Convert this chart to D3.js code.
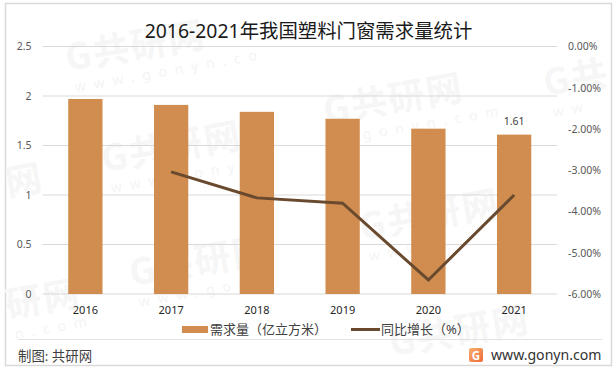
<!DOCTYPE html>
<html>
<head>
<meta charset="utf-8">
<script src="https://cdn.jsdelivr.net/npm/d3@7"></script>
<style>
    html, body {margin: 0; padding: 0; background: #fff;}
    text {font-family: "Noto Sans", "Noto Sans CJK SC", sans-serif;}
</style>
</head>
<body>
<div id="chart"></div>
<script>
const years = ["2016", "2017", "2018", "2019", "2020", "2021"];
const demand = [1.97, 1.91, 1.84, 1.77, 1.67, 1.61];
const growth = [null, -3.04, -3.67, -3.8, -5.66, -3.6];
const leftTicks = [0, 0.5, 1, 1.5, 2, 2.5];
const rightTicks = [0, -1, -2, -3, -4, -5, -6];
const barLabels = [null, null, null, null, null, "1.61"];

const W = 616, H = 370;
const margin = {top: 46.5, right: 59, bottom: 76, left: 42.5};
const width = W - margin.left - margin.right;
const height = H - margin.top - margin.bottom;

const svg = d3.select("#chart").append("svg")
    .attr("width", W)
    .attr("height", H)
    .style("display", "block");

//outer border
svg.append("rect")
    .attr("x", 5.5).attr("y", 3.5)
    .attr("width", 606).attr("height", 362)
    .attr("fill", "#fff")
    .attr("stroke", "#d9d9d9")
    .attr("stroke-width", 1.5);

//watermarks behind the chart, the ones at the edges only show what is visible
const marks = [
    {x: 68, y: 71, big: "G共研网", small: "www.gonyn.co"},
    {x: 104, y: 172, big: "G共研网", small: "www.gony"},
    {x: 326, y: 124, big: "G共研网", small: "w.gonyn.com"},
    {x: 546, y: 96, big: "G共", small: "ww"},
    {x: 132, y: 286, big: "G共研网", small: "www.gony"},
    {x: 362, y: 240, big: "G共研网", small: "www.c"},
    {x: 8, y: 318, big: "研网", small: "n.com"},
    {x: 8, y: 196, big: "网", small: ""},
    {x: 392, y: 356, big: "G共研网", small: ""}
];
const mark = svg.append("g").selectAll("g")
    .data(marks)
    .join("g")
    .attr("transform", d => `translate(${d.x},${d.y}) rotate(-10)`);
mark.append("text")
    .attr("font-size", 36)
    .attr("font-weight", "bold")
    .attr("fill", "#f6f6f6")
    .attr("letter-spacing", 2)
    .style("font-family", "'Noto Sans CJK SC'")
    .text(d => d.big);
mark.append("text")
    .attr("x", 4).attr("y", 22)
    .attr("font-size", 14)
    .attr("fill", "#f4f4f4")
    .attr("letter-spacing", 8)
    .text(d => d.small);

const g = svg.append("g")
    .attr("transform", `translate(${margin.left},${margin.top})`);

const x = d3.scaleBand().domain(years).range([0, width]).paddingInner(0.6).paddingOuter(0.3);
const y = d3.scaleLinear().domain([0, 2.5]).range([height, 0]);
const yRight = d3.scaleLinear().domain([-6, 0]).range([height, 0]);

//gridlines
g.append("g").selectAll("line")
    .data(leftTicks)
    .join("line")
    .attr("x1", 0).attr("x2", width)
    .attr("y1", d => y(d)).attr("y2", d => y(d))
    .attr("stroke", "#d9d9d9")
    .attr("stroke-width", 1);

//bars
g.append("g").selectAll("rect")
    .data(demand)
    .join("rect")
    .attr("x", (d, i) => x(years[i]))
    .attr("y", d => y(d))
    .attr("width", x.bandwidth())
    .attr("height", d => height - y(d))
    .attr("fill", "#d18d4f");

//bar label
g.append("g").selectAll("text")
    .data(barLabels)
    .join("text")
    .attr("x", (d, i) => x(years[i]) + x.bandwidth() / 2)
    .attr("y", (d, i) => y(demand[i]) - 10)
    .attr("text-anchor", "middle")
    .attr("font-size", 10.5)
    .attr("fill", "#404040")
    .text(d => d);

//growth line
const line = d3.line()
    .defined(d => d !== null)
    .x((d, i) => x(years[i]) + x.bandwidth() / 2)
    .y(d => yRight(d));
g.append("path")
    .attr("d", line(growth))
    .attr("fill", "none")
    .attr("stroke", "#694a2e")
    .attr("stroke-width", 3);

//axes
const leftAxis = g.append("g")
    .call(d3.axisLeft(y).tickValues(leftTicks).tickSize(0).tickPadding(11).tickFormat(d => d));
const rightAxis = g.append("g")
    .attr("transform", `translate(${width},0)`)
    .call(d3.axisRight(yRight).tickValues(rightTicks).tickSize(0).tickPadding(11).tickFormat(d => d.toFixed(2) + "%"));
const bottomAxis = g.append("g")
    .attr("transform", `translate(0,${height})`)
    .call(d3.axisBottom(x).tickSize(0).tickPadding(12));
[leftAxis, rightAxis, bottomAxis].forEach(a => {
    a.select(".domain").remove();
    a.selectAll("text").style("font-family", "'Noto Sans'").attr("font-size", 10.5).attr("fill", "#595959");
});
bottomAxis.selectAll("text").attr("font-size", 11).attr("fill", "#262626");

//title
svg.append("text")
    .attr("x", 308.5).attr("y", 38)
    .attr("text-anchor", "middle")
    .attr("font-size", 19.4)
    .attr("fill", "#1a1a1a")
    .text("2016-2021年我国塑料门窗需求量统计");

//legend
svg.append("rect")
    .attr("x", 182).attr("y", 326)
    .attr("width", 26).attr("height", 7)
    .attr("fill", "#d18d4f");
svg.append("text")
    .attr("x", 210).attr("y", 334)
    .attr("font-size", 13)
    .attr("fill", "#404040")
    .text("需求量（亿立方米）");
svg.append("line")
    .attr("x1", 351).attr("x2", 380)
    .attr("y1", 329.5).attr("y2", 329.5)
    .attr("stroke", "#694a2e")
    .attr("stroke-width", 3);
svg.append("text")
    .attr("x", 381).attr("y", 334)
    .attr("font-size", 13)
    .attr("fill", "#404040")
    .text("同比增长（%）");

//footer
svg.append("line")
    .attr("x1", 18).attr("x2", 602)
    .attr("y1", 339.5).attr("y2", 339.5)
    .attr("stroke", "#e3e3e3");
svg.append("text")
    .attr("x", 18).attr("y", 361)
    .attr("font-size", 13.4)
    .attr("fill", "#404040")
    .text("制图: 共研网");

//logo
const grad = svg.append("defs").append("linearGradient")
    .attr("id", "logo").attr("x1", 0).attr("x2", 1).attr("y1", 0).attr("y2", 1);
grad.append("stop").attr("offset", 0).attr("stop-color", "#f6b26b");
grad.append("stop").attr("offset", 1).attr("stop-color", "#ee6a3a");
svg.append("rect")
    .attr("x", 469).attr("y", 348)
    .attr("width", 14).attr("height", 14)
    .attr("rx", 2)
    .attr("fill", "url(#logo)");
svg.append("text")
    .attr("x", 476).attr("y", 359.5)
    .attr("text-anchor", "middle")
    .attr("font-size", 11.5)
    .attr("font-weight", "bold")
    .attr("fill", "#fff")
    .text("G");
svg.append("text")
    .attr("x", 491).attr("y", 360)
    .attr("font-size", 14.1)
    .attr("fill", "#333")
    .text("www.gonyn.com");
</script>
</body>
</html>
